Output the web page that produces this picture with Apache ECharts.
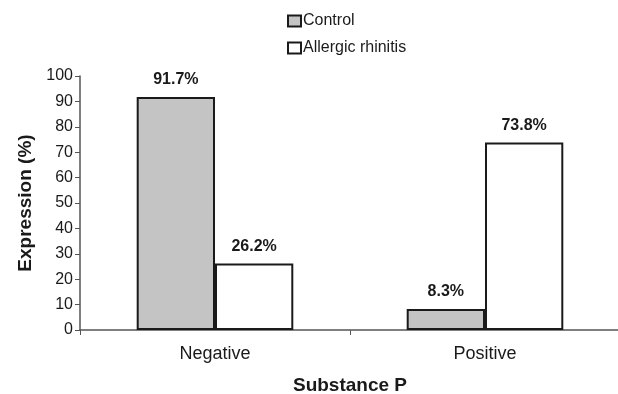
<!DOCTYPE html>
<html><head><meta charset="utf-8">
<script src="https://cdn.jsdelivr.net/npm/echarts@6/dist/echarts.min.js"></script>
<style>html,body{margin:0;padding:0;background:#fff}#c{width:618px;height:394px}</style>
</head><body><div id="c"></div>
<script>
const categories = ['Negative', 'Positive'];
const controlValues = [91.7, 8.3];
const arValues = [26.2, 73.8];
const seriesNames = ['Control', 'Allergic rhinitis'];
const yTicks = {min: 0, max: 100, interval: 10};

const font = 'Liberation Sans, Arial, sans-serif';
const chart = echarts.init(document.getElementById('c'), null, {renderer: 'canvas'});
const labelCfg = {show: true, position: 'top', distance: 9, fontFamily: font, fontSize: 16, fontWeight: 'bold', color: '#1a1a1a', formatter: p => p.value.toFixed(1) + '%'};
chart.setOption({
  animation: false,
  backgroundColor: '#fff',
  legend: {
    orient: 'vertical', left: 282, top: 8, itemWidth: 13, itemHeight: 11, itemGap: 11,
    textStyle: {fontFamily: font, fontSize: 16, color: '#1a1a1a', padding: [0, 0, 0, -3]},
    icon: 'rect',
    data: seriesNames
  },
  grid: {left: 80, right: -2, top: 76, bottom: 64, containLabel: false, outerBoundsMode: 'none'},
  xAxis: {
    type: 'category', data: categories,
    name: 'Substance P', nameLocation: 'middle', nameGap: 46,
    nameTextStyle: {fontFamily: font, fontSize: 19, fontWeight: 'bold', color: '#1a1a1a'},
    axisLine: {lineStyle: {color: '#555', width: 1.5}},
    axisTick: {show: true, length: 5, lineStyle: {color: '#555'}},
    axisLabel: {fontFamily: font, fontSize: 18, color: '#1a1a1a', margin: 15}
  },
  yAxis: {
    type: 'value', min: yTicks.min, max: yTicks.max, interval: yTicks.interval,
    name: 'Expression (%)', nameLocation: 'middle', nameGap: 44,
    nameTextStyle: {fontFamily: font, fontSize: 19, fontWeight: 'bold', color: '#1a1a1a'},
    axisLine: {show: true, lineStyle: {color: '#555', width: 1.5}},
    axisTick: {show: true, length: 5, lineStyle: {color: '#555'}},
    splitLine: {show: false},
    axisLabel: {fontFamily: font, fontSize: 16, color: '#1a1a1a', margin: 7}
  },
  series: [
    {name: seriesNames[0], type: 'bar', data: controlValues, barGap: '0%', barCategoryGap: '42%',
     itemStyle: {color: '#c4c4c4', borderColor: '#1a1a1a', borderWidth: 2}, label: labelCfg},
    {name: seriesNames[1], type: 'bar', data: arValues,
     itemStyle: {color: '#ffffff', borderColor: '#1a1a1a', borderWidth: 2}, label: labelCfg}
  ]
});
</script></body></html>
